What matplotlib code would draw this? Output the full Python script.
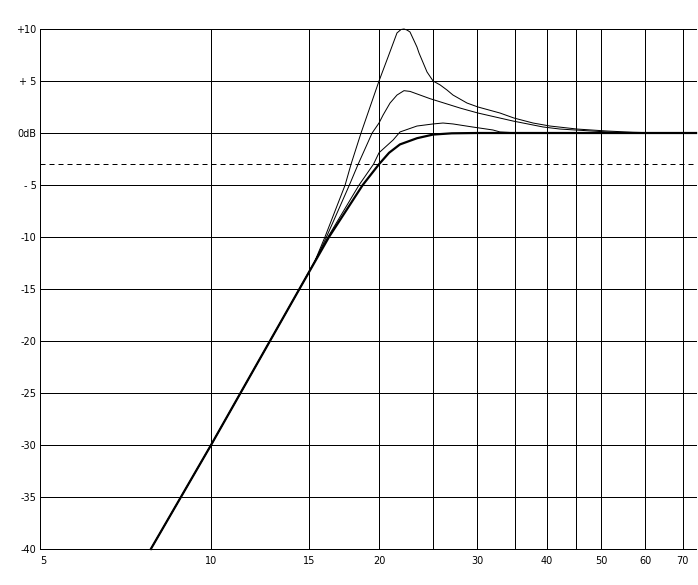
import matplotlib
matplotlib.use("Agg")
import matplotlib.pyplot as plt
from matplotlib.ticker import FixedLocator, NullLocator, FixedFormatter

# ---- data ----
x_ticks = [5, 10, 15, 20, 30, 40, 50, 60, 70]
x_tick_labels = ["5", "10", "15", "20", "30", "40", "50", "60", "70"]
x_grid = [10, 15, 20, 25, 30, 35, 40, 45, 50, 60, 70]
y_ticks = [10, 5, 0, -5, -10, -15, -20, -25, -30, -35, -40]
y_tick_labels = ["+10", "+ 5", "0dB", "- 5", "-10", "-15", "-20", "-25", "-30", "-35", "-40"]
ref_level = -3

# common low-frequency asymptote
asym_freq = [7.8, 10.0, 14.4]
asym_db = [-40, -30, -15]

# curve with +10 dB peak
a_freq = [15.3, 16.0, 17.39, 17.82, 18.57, 20.0, 20.76, 21.54, 21.9, 22.17, 22.45, 22.73,
          23.39, 23.59, 24.38, 25.0, 25.74, 26.48, 27.14, 28.76, 30.09, 32.95, 34.9,
          37.76, 40.5, 45.3, 51.25, 57.05, 64.0, 74.0]
a_db = [-12.5, -10.0, -5.0, -3.0, 0.0, 5.0, 7.31, 9.62, 9.95, 10.0, 9.9, 9.71,
        8.27, 7.69, 5.87, 5.0, 4.62, 4.13, 3.65, 2.88, 2.5, 1.92, 1.44,
        0.96, 0.67, 0.38, 0.19, 0.07, 0.0, 0.0]

# curve with +4 dB peak
b_freq = [15.3, 16.1, 17.7, 18.35, 19.44, 20.0, 20.34, 20.93, 21.54, 22.17, 22.73,
          24.69, 27.94, 28.76, 30.09, 34.77, 39.35, 42.2, 51.25, 57.0, 74.0]
b_db = [-12.5, -10.0, -5.0, -3.0, 0.0, 0.96, 1.73, 2.88, 3.65, 4.07, 4.0,
        3.3, 2.4, 2.21, 1.92, 1.15, 0.58, 0.38, 0.1, 0.0, 0.0]

# curve with +1 dB peak
c_freq = [16.2, 18.42, 19.55, 20.0, 21.2, 21.81, 23.39, 25.0, 26.04, 27.14, 29.4,
          32.0, 32.95, 35.8, 74.0]
c_db = [-10.0, -5.0, -3.0, -1.9, -0.67, 0.1, 0.67, 0.87, 0.96, 0.87, 0.58,
        0.29, 0.1, 0.0, 0.0]

# flat (thick) curve
d_freq = [16.27, 18.7, 20.0, 20.85, 21.8, 23.4, 25.0, 27.0, 30.0, 74.0]
d_db = [-10.0, -5.0, -3.0, -1.9, -1.1, -0.5, -0.15, -0.03, 0.0, 0.0]

# ---- figure ----
W, H = 698, 585
fig = plt.figure(figsize=(W / 100, H / 100), dpi=100)
ax = fig.add_axes([40 / W, 36 / H, 656 / W, 520 / H])

ax.set_xscale("log")
ax.set_xlim(4.937, 73.98)
ax.set_ylim(-40, 10)

px = 0.72
for f in x_grid:
    ax.axvline(f, color="black", lw=px, zorder=1)
for v in y_ticks:
    if v > -40:
        ax.axhline(v, color="black", lw=px, zorder=1, clip_on=False)
ax.axhline(ref_level, color="black", lw=px, linestyle=(0, (5, 4)), zorder=1)

curves = [(a_freq, a_db, px), (b_freq, b_db, px), (c_freq, c_db, px), (d_freq, d_db, 1.6)]
for fr, db, lw in curves:
    ax.plot(asym_freq + fr, asym_db + db, color="black", lw=lw, zorder=3,
            clip_on=False, solid_joinstyle="round")

for s in ["top", "right"]:
    ax.spines[s].set_visible(False)
for s in ["left", "bottom"]:
    ax.spines[s].set_linewidth(px)
    ax.spines[s].set_color("black")

ax.xaxis.set_major_locator(FixedLocator(x_ticks))
ax.xaxis.set_major_formatter(FixedFormatter(x_tick_labels))
ax.xaxis.set_minor_locator(NullLocator())
ax.yaxis.set_major_locator(FixedLocator(y_ticks))
ax.yaxis.set_major_formatter(FixedFormatter(y_tick_labels))
ax.yaxis.set_minor_locator(NullLocator())
ax.tick_params(axis="both", length=0, labelsize=7, colors="black")
ax.tick_params(axis="x", pad=5)
ax.tick_params(axis="y", pad=2.5)
for lab in ax.get_xticklabels() + ax.get_yticklabels():
    lab.set_family("DejaVu Sans")

fig.savefig("out.png", dpi=100)
